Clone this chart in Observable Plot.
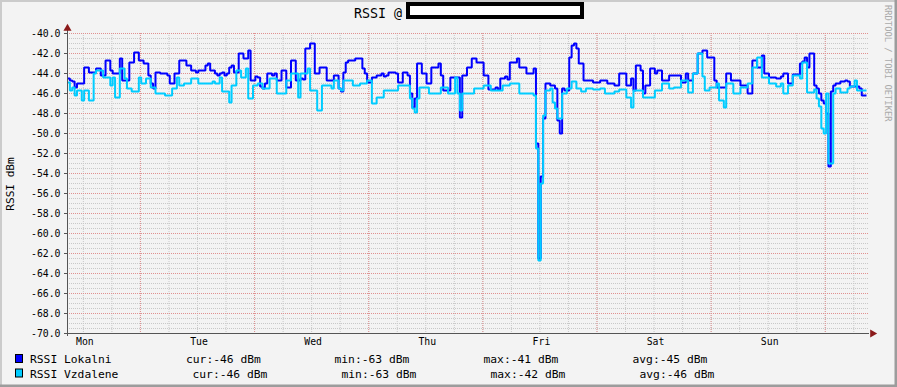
<!DOCTYPE html>
<html><head><meta charset="utf-8">
<script src="https://cdn.jsdelivr.net/npm/d3@7"></script>
<script src="https://cdn.jsdelivr.net/npm/@observablehq/plot@0.6"></script>
<style>
html,body{margin:0;padding:0;background:#f3f3f3;}
#wrap{position:relative;width:897px;height:387px;background:#f3f3f3;overflow:hidden;}
#wrap > svg{position:absolute;left:0;top:0;}
</style></head><body><div id="wrap"></div>
<script>
// ---- data (30-minute samples, starting Monday 08:40) ----
const startTime = Date.UTC(2014, 2, 3, 8, 40);
const stepHours = 0.5;
const lokalni = [
-44.5,-44.7,-44.8,-45.4,-45.0,-45.0,-45.0,-43.4,-43.4,-43.9,-43.9,-43.9,
-43.5,-43.5,-44.2,-44.2,-42.7,-42.7,-43.7,-44.0,-44.0,-44.0,-42.5,-44.7,
-44.7,-44.7,-42.9,-42.9,-41.9,-41.9,-42.7,-42.7,-43.0,-43.0,-44.2,-45.0,
-45.5,-43.9,-43.9,-44.0,-44.0,-44.0,-44.2,-45.0,-45.0,-44.0,-44.0,-42.7,
-42.7,-42.7,-43.2,-43.2,-43.7,-43.7,-43.9,-43.7,-43.7,-43.7,-43.2,-43.0,
-43.7,-43.7,-44.0,-44.2,-44.0,-43.9,-44.2,-44.0,-43.4,-43.2,-43.9,-43.9,
-42.0,-42.0,-42.5,-42.5,-41.7,-44.7,-44.7,-44.3,-44.4,-45.3,-45.5,-45.0,
-44.0,-44.0,-44.2,-44.0,-44.7,-44.7,-43.7,-43.7,-45.4,-45.4,-42.7,-42.7,
-44.7,-44.7,-44.5,-44.6,-41.5,-41.5,-41.0,-41.0,-44.0,-44.0,-43.4,-43.4,
-43.4,-44.7,-44.7,-44.7,-44.2,-44.2,-45.5,-45.8,-43.9,-42.9,-42.7,-42.7,
-42.7,-42.5,-42.5,-42.5,-43.5,-44.0,-44.9,-44.9,-44.4,-44.4,-44.2,-44.2,
-44.0,-44.3,-44.2,-43.9,-43.9,-43.9,-44.0,-44.9,-44.9,-43.9,-43.9,-44.2,
-46.0,-47.4,-46.5,-43.0,-43.0,-44.0,-44.0,-45.0,-45.0,-43.4,-43.4,-43.4,
-43.0,-44.2,-45.7,-45.7,-45.7,-44.4,-44.4,-44.4,-44.4,-48.4,-44.2,-44.2,
-43.4,-43.4,-42.5,-42.5,-42.9,-42.9,-42.9,-44.2,-44.2,-45.6,-45.6,-45.6,
-45.4,-45.6,-44.5,-44.5,-44.3,-44.6,-42.9,-42.9,-42.9,-42.5,-43.4,-43.4,
-43.4,-44.0,-44.0,-44.0,-43.5,-51.0,-62.5,-54.3,-48.5,-45.0,-45.0,-45.2,
-45.2,-45.5,-48.7,-50.0,-45.5,-45.7,-45.7,-42.4,-41.2,-41.0,-41.5,-43.0,
-43.0,-44.7,-44.7,-44.7,-44.7,-44.9,-44.9,-44.9,-44.7,-44.7,-44.7,-45.0,
-45.0,-45.0,-45.2,-45.2,-44.0,-44.0,-44.0,-45.2,-45.2,-44.5,-45.7,-43.2,
-43.2,-43.7,-46.0,-45.2,-45.2,-43.5,-43.5,-44.0,-43.7,-43.7,-44.7,-44.7,
-44.7,-44.2,-44.2,-44.2,-44.2,-44.2,-44.9,-44.9,-44.0,-44.7,-44.7,-44.0,
-44.0,-42.0,-42.0,-41.7,-41.7,-42.4,-42.4,-42.4,-44.7,-45.4,-45.4,-45.4,
-45.4,-44.0,-44.0,-44.7,-44.7,-44.7,-44.7,-45.2,-45.2,-45.2,-46.0,-46.0,
-42.7,-42.7,-43.4,-43.4,-42.2,-44.0,-44.0,-44.4,-44.4,-44.4,-44.5,-44.5,
-44.3,-44.0,-44.0,-45.0,-45.0,-44.1,-44.1,-44.1,-43.0,-42.8,-42.4,-43.4,
-42.0,-42.0,-45.2,-45.5,-46.0,-46.7,-47.0,-48.0,-53.3,-45.8,-45.2,-45.0,
-45.0,-44.8,-44.8,-44.7,-44.8,-45.3,-45.3,-45.3,-45.3,-45.5,-46.2,-46.2
];
const vzdalene = [
-44.9,-45.7,-45.4,-46.2,-45.7,-45.7,-46.7,-45.7,-45.7,-46.7,-46.7,-44.0,
-43.7,-43.7,-43.7,-44.4,-44.4,-44.4,-45.2,-44.4,-46.4,-46.4,-43.5,-43.5,
-44.5,-45.5,-45.5,-45.8,-45.8,-45.8,-44.4,-45.0,-45.0,-44.5,-44.5,-45.4,
-45.4,-46.0,-46.0,-46.0,-46.0,-46.2,-46.2,-46.2,-45.5,-45.5,-44.4,-45.2,
-45.2,-45.0,-45.0,-45.0,-44.5,-44.5,-44.5,-45.0,-45.0,-45.0,-45.0,-45.0,
-45.0,-44.8,-45.0,-45.0,-44.4,-45.8,-45.8,-45.8,-46.9,-45.2,-45.2,-43.7,
-43.7,-44.4,-44.4,-43.5,-46.5,-46.5,-45.2,-45.2,-45.0,-45.0,-45.5,-45.5,
-45.5,-44.5,-44.5,-44.5,-46.0,-46.0,-46.0,-46.0,-44.7,-44.7,-44.0,-44.0,
-44.0,-46.4,-44.0,-44.0,-44.0,-43.5,-45.7,-45.7,-45.7,-47.7,-47.7,-45.2,
-45.2,-45.2,-45.2,-45.5,-44.7,-44.7,-45.5,-45.7,-44.7,-44.7,-44.7,-44.7,
-45.2,-45.2,-45.2,-45.0,-45.0,-45.0,-44.7,-44.7,-47.0,-47.0,-46.4,-46.4,
-46.4,-45.7,-45.7,-45.7,-45.7,-45.7,-45.7,-45.2,-45.2,-45.2,-45.2,-45.2,
-46.5,-47.5,-47.9,-46.5,-45.4,-45.4,-45.4,-45.4,-46.0,-46.0,-46.0,-46.0,
-46.0,-45.4,-45.4,-45.4,-46.0,-46.0,-46.0,-44.4,-46.0,-47.7,-46.0,-46.0,
-46.0,-46.0,-46.0,-45.5,-45.5,-45.5,-45.5,-45.2,-45.2,-45.2,-45.7,-45.7,
-45.7,-45.7,-45.7,-45.2,-45.2,-45.2,-45.0,-45.0,-45.0,-45.0,-46.0,-46.0,
-46.0,-46.0,-46.0,-46.0,-46.2,-51.5,-62.7,-55.0,-48.2,-45.7,-45.7,-45.5,
-46.9,-47.5,-48.5,-48.5,-46.0,-46.0,-45.5,-45.5,-44.8,-44.8,-45.5,-45.5,
-45.8,-45.8,-45.5,-45.5,-45.5,-45.6,-45.6,-45.6,-45.5,-45.5,-46.0,-46.0,
-46.0,-46.0,-45.8,-45.8,-45.6,-45.6,-45.6,-46.4,-46.4,-47.4,-45.7,-45.7,
-45.7,-45.7,-46.4,-46.4,-46.4,-46.4,-46.4,-45.7,-45.7,-45.7,-45.0,-45.0,
-45.0,-45.5,-45.5,-45.4,-45.4,-45.4,-44.7,-44.7,-44.7,-45.9,-45.9,-44.0,
-44.0,-42.0,-42.0,-44.3,-45.7,-45.7,-45.4,-45.4,-45.4,-45.0,-46.7,-46.7,
-47.4,-45.0,-45.0,-45.0,-46.0,-46.0,-46.0,-45.4,-45.4,-45.4,-45.0,-45.0,
-43.4,-43.4,-42.4,-42.4,-44.4,-44.4,-44.4,-45.0,-45.0,-45.0,-45.3,-45.3,
-45.0,-46.0,-46.0,-45.2,-45.2,-44.2,-44.2,-44.2,-44.5,-42.9,-42.9,-45.9,
-45.9,-45.9,-45.6,-46.5,-47.3,-49.5,-50.0,-46.0,-53.0,-53.0,-46.0,-45.5,
-45.5,-45.9,-45.9,-45.9,-45.5,-45.3,-45.3,-44.7,-45.7,-45.7,-45.7,-45.7
];
const seriesNames = ["RSSI Lokalni", "RSSI Vzdalene"];
const seriesColors = ["#0000ff", "#00ccff"];
const legendStats = [
  ["cur:-46 dBm", "min:-63 dBm", "max:-41 dBm", "avg:-45 dBm"],
  ["cur:-46 dBm", "min:-63 dBm", "max:-42 dBm", "avg:-46 dBm"]
];
const yTicks = [-70, -68, -66, -64, -62, -60, -58, -56, -54, -52, -50, -48, -46, -44, -42, -40];
const dayLabels = ["Mon", "Tue", "Wed", "Thu", "Fri", "Sat", "Sun"];
const titleText = "RSSI @";
const yLabel = "RSSI dBm";
const watermark = "RRDTOOL / TOBI OETIKER";

// ---- build table ----
const H = 3600e3;
const nHours = 168;
const start = new Date(startTime);
const end = new Date(startTime + nHours * H);
const rows = [];
[lokalni, vzdalene].forEach((arr, s) => {
  arr.forEach((v, i) => rows.push({s, t: new Date(startTime + i * stepHours * H), v}));
  rows.push({s, t: new Date(startTime + arr.length * stepHours * H), v: arr[arr.length - 1]});
});
const noons = d3.utcDay.range(d3.utcDay.floor(start), end).map(d => new Date(+d + 12 * H));
const minorX = d3.utcHour.every(6).range(start, end);
const majorX = d3.utcDay.range(start, end);
const minorY = d3.range(-70, -39.9, 0.5);
const FONT = "DejaVu Sans Mono";
const AX = "#555555";
const ARROW = "#8b1a1a";

const chart = Plot.plot({
  width: 897, height: 387,
  marginLeft: 67, marginRight: 31, marginTop: 33, marginBottom: 54,
  x: {type: "utc", domain: [start, end]},
  y: {domain: [-70, -40]},
  style: {background: "transparent", fontFamily: FONT, color: "#000", overflow: "visible"},
  marks: [
    Plot.ruleY(minorY, {stroke: "#c8c8c8", strokeDasharray: "1,1", insetRight: -2}),
    Plot.ruleX(minorX, {stroke: "#c8c8c8", strokeDasharray: "1,1"}),
    Plot.ruleY(yTicks, {stroke: "#e09090", strokeDasharray: "1,1", insetRight: -2}),
    Plot.ruleX(majorX, {stroke: "#e09090", strokeDasharray: "1,1", insetBottom: -2}),
    Plot.line(rows.filter(d => d.s === 0), {x: "t", y: "v", curve: "step-after", stroke: seriesColors[0], strokeWidth: 2, strokeLinejoin: "miter", strokeLinecap: "butt"}),
    Plot.line(rows.filter(d => d.s === 1), {x: "t", y: "v", curve: "step-after", stroke: seriesColors[1], strokeWidth: 2, strokeLinejoin: "miter", strokeLinecap: "butt"}),
    Plot.axisY({ticks: yTicks, tickFormat: d => d.toFixed(1), tickSize: 3, tickPadding: 4, fontSize: 9.8, label: null, stroke: AX}),
    Plot.axisX({ticks: noons, tickFormat: (d, i) => dayLabels[i], tickSize: 0, tickPadding: 5, fontSize: 9.8, label: null, dx: 1.5}),
    Plot.ruleY([-70], {stroke: AX, insetLeft: -3, insetRight: -3}),
    Plot.ruleX([start], {stroke: AX, insetTop: -3, insetBottom: -3}),
    Plot.dot([{x: end, y: -70}], {x: "x", y: "y", symbol: "triangle", rotate: 90, r: 3, fill: ARROW, stroke: null, dx: 6}),
    Plot.dot([{x: start, y: -40}], {x: "x", y: "y", symbol: "triangle", r: 3, fill: ARROW, stroke: null, dy: -5})
  ]
});
document.getElementById("wrap").appendChild(chart);

// ---- overlay: frame shading, title, labels, legend ----
const ov = d3.select("#wrap").append("svg")
  .attr("width", 897).attr("height", 387)
  .attr("font-family", FONT);
ov.append("rect").attr("x", 0).attr("y", 0).attr("width", 897).attr("height", 2).attr("fill", "#cbcbcb");
ov.append("rect").attr("x", 0).attr("y", 0).attr("width", 2).attr("height", 387).attr("fill", "#cbcbcb");
ov.append("rect").attr("x", 0).attr("y", 384.5).attr("width", 897).attr("height", 2.5).attr("fill", "#9c9c9c");
ov.append("rect").attr("x", 894.5).attr("y", 0).attr("width", 2.5).attr("height", 387).attr("fill", "#9c9c9c");

ov.append("text").attr("x", 354).attr("y", 18).attr("font-size", 13.3).attr("fill", "#000").text(titleText);
ov.append("rect").attr("x", 408).attr("y", 4).attr("width", 174).attr("height", 13)
  .attr("fill", "#fff").attr("stroke", "#000").attr("stroke-width", 4);

ov.append("text").attr("transform", "translate(14,184) rotate(-90)").attr("text-anchor", "middle")
  .attr("font-size", 11.1).attr("fill", "#000").text(yLabel);
ov.append("text").attr("transform", "translate(885,5) rotate(90)").attr("text-anchor", "start")
  .attr("font-size", 8.8).attr("fill", "#aaaaaa").text(watermark);

const rowY = [363, 377.5];
const colX = [[186, 334.5, 483.5, 632.5], [192.5, 341.5, 490.5, 639.5]];
seriesNames.forEach((name, s) => {
  ov.append("rect").attr("x", 15.5).attr("y", rowY[s] - 8.5).attr("width", 7).attr("height", 8)
    .attr("fill", seriesColors[s]).attr("stroke", "#000").attr("stroke-width", 1);
  ov.append("text").attr("x", 30).attr("y", rowY[s]).attr("font-size", 11.3).attr("fill", "#000").text(name);
  legendStats[s].forEach((t, j) => {
    ov.append("text").attr("x", colX[s][j]).attr("y", rowY[s]).attr("font-size", 11.3).attr("fill", "#000").text(t);
  });
});
</script></body></html>
